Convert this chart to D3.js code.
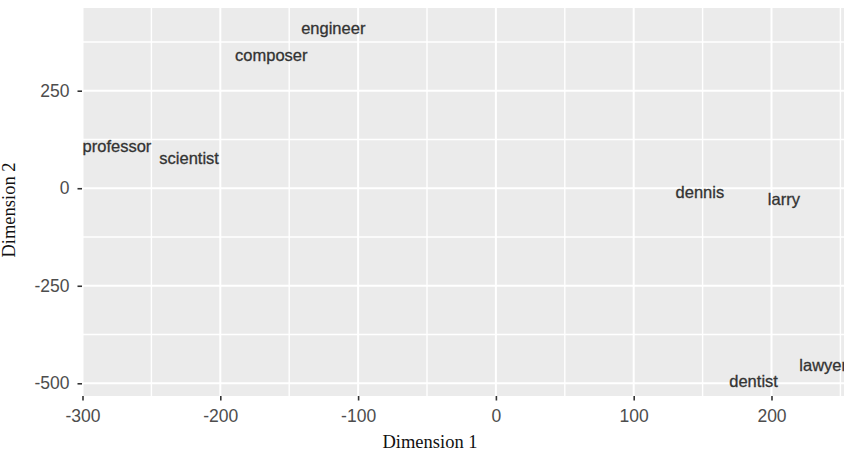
<!DOCTYPE html>
<html>
<head>
<meta charset="utf-8">
<script src="https://cdn.jsdelivr.net/npm/d3@7"></script>
<style>
  html, body { margin: 0; padding: 0; background: #ffffff; }
  svg { display: block; }
</style>
</head>
<body>
<svg id="chart" width="844" height="454"></svg>
<script>
// ---- data ----
const labels = ["professor", "scientist", "composer", "engineer", "dennis", "larry", "dentist", "lawyer"];
const dim1   = [-275, -222.6, -163, -118, 148, 209, 187, 237.5];
const dim2   = [107, 78, 340, 411, -11.5, -27, -494, -454];

const xMajorTicks = [-300, -200, -100, 0, 100, 200];
const xMinorTicks = [-250, -150, -50, 50, 150, 250];
const yMajorTicks = [250, 0, -250, -500];
const yMinorTicks = [375, 125, -125, -375];

const xTitle = "Dimension 1";
const yTitle = "Dimension 2";

// ---- layout ----
const svg = d3.select("#chart");
const panel = { left: 82, top: 8, right: 846, bottom: 396 };

const x = d3.scaleLinear().domain([-300, 200]).range([82.5, 771.5]);
const y = d3.scaleLinear().domain([250, -500]).range([90.7, 383.3]);

// panel background
svg.append("rect")
  .attr("x", panel.left).attr("y", panel.top)
  .attr("width", panel.right - panel.left).attr("height", panel.bottom - panel.top)
  .attr("fill", "#ebebeb");

const grid = svg.append("g");
// minor grid
grid.selectAll(".xmin").data(xMinorTicks).enter().append("line")
  .attr("x1", d => x(d)).attr("x2", d => x(d))
  .attr("y1", panel.top).attr("y2", panel.bottom)
  .attr("stroke", "#ffffff").attr("stroke-width", 1.4);
grid.selectAll(".ymin").data(yMinorTicks).enter().append("line")
  .attr("y1", d => y(d)).attr("y2", d => y(d))
  .attr("x1", panel.left).attr("x2", panel.right)
  .attr("stroke", "#ffffff").attr("stroke-width", 1.4);
// major grid
grid.selectAll(".xmaj").data(xMajorTicks).enter().append("line")
  .attr("x1", d => x(d)).attr("x2", d => x(d))
  .attr("y1", panel.top).attr("y2", panel.bottom)
  .attr("stroke", "#ffffff").attr("stroke-width", 2);
grid.selectAll(".ymaj").data(yMajorTicks).enter().append("line")
  .attr("y1", d => y(d)).attr("y2", d => y(d))
  .attr("x1", panel.left).attr("x2", panel.right)
  .attr("stroke", "#ffffff").attr("stroke-width", 2);

// axes
const fontSans = "'Liberation Sans', Arial, sans-serif";
const xAxis = d3.axisBottom(x).tickValues(xMajorTicks).tickSize(4.5).tickPadding(9.5).tickFormat(d3.format("d"));
const gx = svg.append("g").attr("transform", `translate(0,${panel.bottom})`).call(xAxis);
const yAxis = d3.axisLeft(y).tickValues(yMajorTicks).tickSize(4.5).tickPadding(8).tickFormat(d3.format("d"));
const gy = svg.append("g").attr("transform", `translate(${panel.left},0)`).call(yAxis);
[gx, gy].forEach(g => {
  g.select(".domain").remove();
  g.selectAll(".tick line").attr("stroke", "#333333").attr("stroke-width", 1.6);
  g.selectAll(".tick text")
    .attr("fill", "#4d4d4d")
    .style("font-family", fontSans)
    .style("font-size", "17.5px");
});
gx.selectAll(".tick text").text(d => d < 0 ? "-" + Math.abs(d) : String(d));
gy.selectAll(".tick text").text(d => d < 0 ? "-" + Math.abs(d) : String(d));

// point labels
svg.append("g").selectAll("text").data(labels).enter().append("text")
  .attr("x", (d, i) => x(dim1[i]))
  .attr("y", (d, i) => y(dim2[i]))
  .attr("dy", "0.35em")
  .attr("text-anchor", "middle")
  .attr("fill", "#333333")
  .attr("stroke", "#333333")
  .attr("stroke-width", 0.3)
  .style("font-family", fontSans)
  .style("font-size", "16.5px")
  .text(d => d);

// axis titles
const fontSerif = "'Liberation Serif', 'Times New Roman', serif";
svg.append("text")
  .attr("x", 430).attr("y", 448)
  .attr("text-anchor", "middle")
  .attr("fill", "#111111")
  .style("font-family", fontSerif)
  .style("font-size", "18.5px")
  .text(xTitle);
svg.append("text")
  .attr("transform", "translate(14.5,210) rotate(-90)")
  .attr("text-anchor", "middle")
  .attr("fill", "#111111")
  .style("font-family", fontSerif)
  .style("font-size", "18.5px")
  .text(yTitle);
</script>
</body>
</html>
